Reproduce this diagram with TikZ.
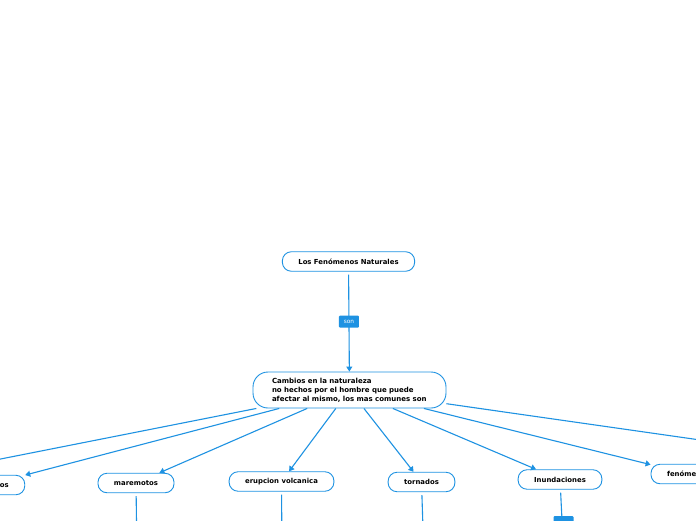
\documentclass[tikz,border=0pt]{standalone}
\usepackage{fontspec}
\setmainfont{DejaVu Sans}
\usepackage{tikz}
\usetikzlibrary{arrows.meta}
\definecolor{lineblue}{RGB}{30,146,226}

\begin{document}
\begin{tikzpicture}[x=1pt,y=-1pt,
	topic/.style={draw=lineblue, line width=0.9pt, fill=white, rounded corners=9pt,
		minimum height=19.5pt, inner xsep=16pt, inner ysep=0pt,
		font=\fontsize{6.9}{9}\selectfont\bfseries},
	tag/.style={fill=lineblue, text=white, rounded corners=1pt, minimum width=20pt,
		minimum height=12pt, inner sep=0pt, font=\fontsize{5.8}{6}\selectfont},
	link/.style={draw=lineblue, line width=1.1pt, -{Triangle[length=5pt,width=6pt]}},
	plain/.style={draw=lineblue, line width=1.1pt}]
	% Page
	\fill[white] (0,0) rectangle (696,520);
	\clip (0,0) rectangle (696,520);
	% Boxes
	\node[topic] (title) at (348.5,261.5) {Los Fenómenos Naturales};
	\node[topic, rounded corners=15pt, minimum width=193pt, minimum height=36pt,
		text width=155pt, inner xsep=19pt, align=left,
		font=\fontsize{7}{9}\selectfont\bfseries] (main) at (349.5,390)
		{Cambios en la naturaleza\\no hechos por el hombre que puede\\afectar al mismo, los mas comunes son};
	\node[topic] (terre) at (-13,485) {terremotos};
	\node[topic] (mare) at (136,483) {maremotos};
	\node[topic] (erup) at (281.5,481.5) {erupcion volcanica};
	\node[topic] (torn) at (421.5,482) {tornados};
	\node[topic] (inun) at (560,479.5) {Inundaciones};
	\node[topic] (fen) at (688.5,474) {fenómenos};
	% Free ends of the lines
	\coordinate (farleft) at (-131,485);
	\coordinate (farright) at (980,480);
	\foreach \n/\x in {mare/137,erup/282,torn/424,inun/564} \coordinate (\n end) at (\x,560);
	% Lines
	\draw[link, shorten <=3pt] (title) -- node[tag] {son} (main);
	\foreach \n in {farleft,terre,mare,erup,torn,inun,fen,farright}
		\draw[link] (main) -- (\n);
	\foreach \n in {mare,erup,torn,inun}
		\draw[plain, shorten <=3pt] (\n) -- (\n end);
	% Tag below Inundaciones
	\node[tag] (inuntag) at (563.5,522) {};
\end{tikzpicture}
\end{document}
